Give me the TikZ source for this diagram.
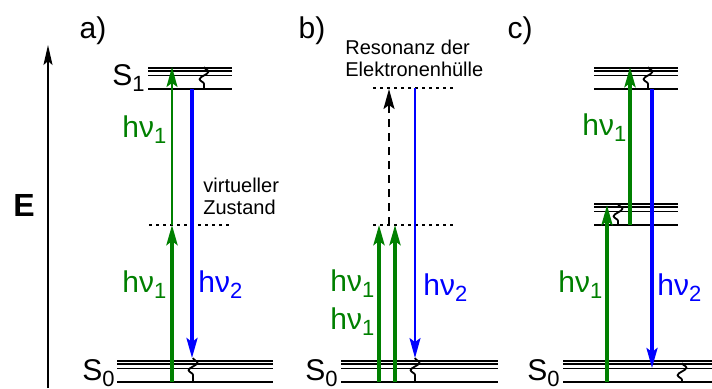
\documentclass[tikz,border=0pt]{standalone}
\usepackage{fontspec}
\setmainfont{Liberation Sans}
\usetikzlibrary{
  arrows.meta,
  decorations.pathmorphing
}
\definecolor{absorbcolor}{RGB}{0, 128, 0}
\definecolor{emitcolor}{RGB}{0, 0, 255}
\definecolor{levelcolor}{RGB}{0, 0, 0}
\newcommand{\lvidx}[1]{\raisebox{-3pt}{\fontsize{11}{11}\selectfont #1}}
\newcommand{\hnu}[1]{hν\lvidx{#1}}
\tikzset{
bigtext/.style={
  font=\fontsize{15}{18}\selectfont,
  inner sep=0pt
},
smalltext/.style={
  font=\fontsize{10}{11}\selectfont,
  align=left,
  inner sep=0pt
},
levelthin/.style={
  draw=levelcolor,
  line width=0.6pt
},
levelthick/.style={
  draw=levelcolor,
  line width=1.4pt
},
virtline/.style={
  draw=black,
  line width=0.7pt,
  dash pattern=on 1.5pt off 2pt
},
greenarrow/.style={
  -{Stealth[length=10pt,width=5.5pt,inset=2pt]},
  line width=1.8pt,
  draw=absorbcolor
},
thingreenarrow/.style={
  greenarrow,
  line width=0.9pt
},
bluearrow/.style={
  -{Stealth[length=10pt,width=5.5pt,inset=2pt]},
  line width=1.6pt,
  draw=emitcolor
},
thinbluearrow/.style={
  bluearrow,
  line width=1pt
},
squiggle/.style={
  decorate,
  decoration={snake, segment length=7.5pt, amplitude=2.2pt},
  line width=0.9pt
}
}
% level set: x start, x end, y of the thick line
\newcommand{\levelset}[3]{
  \draw[levelthin] (#1,#3-21) -- (#2,#3-21);
  \draw[levelthin] (#1,#3-18) -- (#2,#3-18);
  \draw[levelthin] (#1,#3-13.5) -- (#2,#3-13.5);
  \draw[levelthick] (#1,#3) -- (#2,#3);
}
\begin{document}
\begin{tikzpicture}[x=0.5pt, y=-0.5pt]
\useasboundingbox (0,0) rectangle (712,388);

% ============================================================================
% ENERGIEACHSE
% ============================================================================
\coordinate (ebot) at (48,388);
\coordinate (etop) at (48,45);
\draw[-{Stealth[length=10pt,width=4.5pt,inset=2pt]}, line width=0.9pt] (ebot) -- (etop);
\node[font=\fontsize{16}{18}\selectfont\bfseries] (elabel) at (24,205) {E};

% ============================================================================
% a) VIRTUELLER ZUSTAND
% ============================================================================
\node[bigtext] (alabel) at (93,31) {a)};
\levelset{148}{232}{89}
\levelset{117}{273}{382}
\draw[virtline] (149,225) -- (233,225);
\node[bigtext, anchor=base west] (as1) at (112,85) {S\lvidx{1}};
\node[bigtext, anchor=base west] (as0) at (82,380) {S\lvidx{0}};
\node[smalltext, anchor=west] (avirt) at (203,196) {virtueller\\Zustand};

\coordinate (ag0) at (172,382);
\coordinate (agv) at (172,225);
\coordinate (ag1) at (172,67);
\draw[greenarrow] (ag0) -- (agv);
\draw[thingreenarrow] (agv) -- (ag1);
\coordinate (ab1) at (192,89);
\coordinate (ab0) at (192,358);
\draw[bluearrow] (ab1) -- (ab0);
\coordinate (aw0) at (193,358);
\coordinate (aw1) at (193,382);
\draw[squiggle] (aw0) -- (aw1);
\coordinate (aw2) at (204,67);
\coordinate (aw3) at (204,89);
\draw[squiggle] (aw2) -- (aw3);

\node[bigtext, text=absorbcolor, anchor=base west] (ahnuup) at (122,137) {\hnu{1}};
\node[bigtext, text=absorbcolor, anchor=base west] (ahnulow) at (122,292) {\hnu{1}};
\node[bigtext, text=emitcolor, anchor=base west] (ahnuem) at (198,292) {\hnu{2}};

% ============================================================================
% b) RESONANZ
% ============================================================================
\node[bigtext] (blabel) at (312,31) {b)};
\levelset{341}{498}{382}
\draw[virtline] (373,88) -- (457,88);
\draw[virtline] (373,225) -- (457,225);
\node[bigtext, anchor=base west] (bs0) at (305,380) {S\lvidx{0}};
\node[smalltext, anchor=west] (bres) at (345,58) {Resonanz der\\Elektronenhülle};

\coordinate (bg0) at (379,382);
\coordinate (bg1) at (379,225);
\coordinate (bg2) at (395,382);
\coordinate (bg3) at (395,225);
\draw[greenarrow] (bg0) -- (bg1);
\draw[greenarrow] (bg2) -- (bg3);
\coordinate (bd0) at (389,225);
\coordinate (bd1) at (389,89);
\draw[-{Stealth[length=10pt,width=5.5pt,inset=2pt]}, line width=1pt, dash pattern=on 4pt off 3pt] (bd0) -- (bd1);
\coordinate (bb1) at (415,88);
\coordinate (bb0) at (415,358);
\draw[thinbluearrow] (bb1) -- (bb0);
\coordinate (bw0) at (415,358);
\coordinate (bw1) at (415,382);
\draw[squiggle] (bw0) -- (bw1);

\node[bigtext, text=absorbcolor, anchor=base west] (bhnuup) at (330,291) {\hnu{1}};
\node[bigtext, text=absorbcolor, anchor=base west] (bhnulow) at (330,329) {\hnu{1}};
\node[bigtext, text=emitcolor, anchor=base west] (bhnuem) at (423,295) {\hnu{2}};

% ============================================================================
% c) REALER ZWISCHENZUSTAND
% ============================================================================
\node[bigtext] (clabel) at (520,31) {c)};
\levelset{594}{678}{89}
\levelset{594}{678}{225}
\levelset{563}{712}{382}
\node[bigtext, anchor=base west] (cs0) at (527,380) {S\lvidx{0}};

\coordinate (cg0) at (607,382);
\coordinate (cg1) at (607,205);
\draw[greenarrow] (cg0) -- (cg1);
\coordinate (cg2) at (630,225);
\coordinate (cg3) at (630,67);
\draw[greenarrow] (cg2) -- (cg3);
\coordinate (cw0) at (618,204);
\coordinate (cw1) at (618,225);
\draw[squiggle] (cw0) -- (cw1);
\coordinate (cw2) at (648,67);
\coordinate (cw3) at (648,89);
\draw[squiggle] (cw2) -- (cw3);
\coordinate (cb1) at (652,89);
\coordinate (cb0) at (652,368);
\draw[bluearrow] (cb1) -- (cb0);
\coordinate (cw4) at (682,363);
\coordinate (cw5) at (682,382);
\draw[squiggle] (cw4) -- (cw5);

\node[bigtext, text=absorbcolor, anchor=base west] (chnuup) at (582,135) {\hnu{1}};
\node[bigtext, text=absorbcolor, anchor=base west] (chnulow) at (558,292) {\hnu{1}};
\node[bigtext, text=emitcolor, anchor=base west] (chnuem) at (657,295) {\hnu{2}};

\end{tikzpicture}
\end{document}
